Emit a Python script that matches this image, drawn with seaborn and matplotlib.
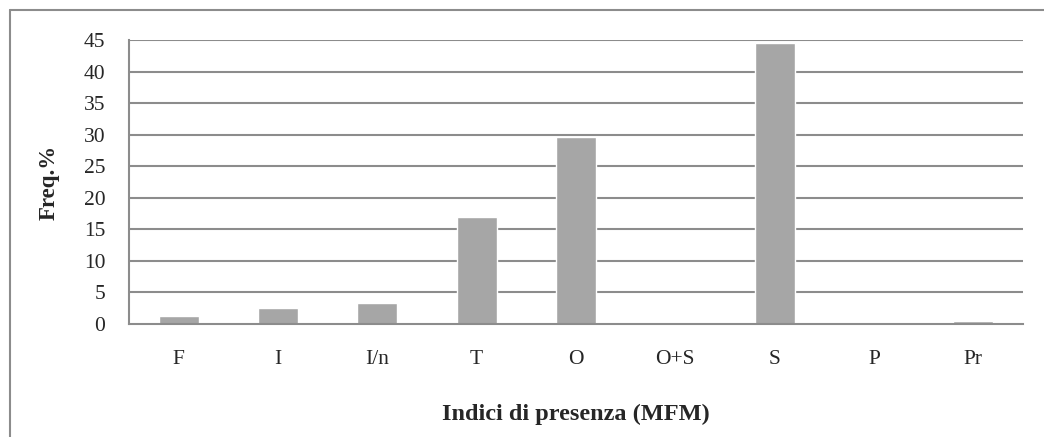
import numpy as np
import pandas as pd
import matplotlib
matplotlib.use("Agg")
import matplotlib.pyplot as plt
from matplotlib.lines import Line2D
import seaborn as sns

# Datos
categorias = ["F", "I", "I/n", "T", "O", "O+S", "S", "P", "Pr"]
frecuencias = [1.3, 2.6, 3.4, 17.0, 29.6, 0.2, 44.5, 0.15, 0.4]
y_ticks = [0, 5, 10, 15, 20, 25, 30, 35, 40, 45]

df = pd.DataFrame({"indice": categorias, "freq": frecuencias})

sns.set_style("white")
plt.rcParams["font.family"] = ["Liberation Serif", "DejaVu Serif"]

fig = plt.figure(figsize=(10.44, 4.37), dpi=100)
ax = fig.add_axes([129 / 1044, 1 - 324 / 437, (1023 - 129) / 1044, (324 - 40) / 437])

grid_col = "#8c8c8c"
sns.barplot(data=df, x="indice", y="freq", color="#a6a6a6", width=0.4,
            saturation=1, ax=ax, zorder=3)

ax.set_ylim(0, 45)
ax.set_xlim(-0.5, len(categorias) - 0.5)
ax.set_yticks(y_ticks)
ax.set_yticklabels([str(v) for v in y_ticks], fontsize=15.5)
for v in y_ticks[1:]:
    ax.axhline(v, color=grid_col, lw=1.5, zorder=1)

# ticks en los limites de las categorias, etiquetas centradas
ax.set_xticks(np.arange(-0.5, len(categorias)))
ax.set_xticklabels([])
ax.set_xticks(np.arange(len(categorias)), minor=True)
ax.set_xticklabels(categorias, minor=True, fontsize=15.5)
ax.tick_params(axis="x", which="major", direction="out", length=7, width=1.2,
               color=grid_col)
ax.tick_params(axis="x", which="minor", length=0, pad=19)
ax.tick_params(axis="y", direction="out", length=6, width=1.2, color=grid_col, pad=11)

for s in ["top", "right"]:
    ax.spines[s].set_visible(False)
for s in ["left", "bottom"]:
    ax.spines[s].set_color(grid_col)
    ax.spines[s].set_linewidth(1.5)
    ax.spines[s].set_zorder(4)

ax.set_xlabel("Indici di presenza (MFM)", fontsize=17.5, fontweight="bold", labelpad=25)
ax.set_ylabel("Freq.%", fontsize=16.5, fontweight="bold", labelpad=17)

# marco del grafico (solo visibles izquierda y arriba)
fig.add_artist(Line2D([10 / 1044, 10 / 1044], [0, 1 - 10 / 437],
                      transform=fig.transFigure, color="#8c8c8c", lw=1.5))
fig.add_artist(Line2D([10 / 1044, 1], [1 - 10 / 437, 1 - 10 / 437],
                      transform=fig.transFigure, color="#8c8c8c", lw=1.5))

fig.savefig("out.png", dpi=100)
